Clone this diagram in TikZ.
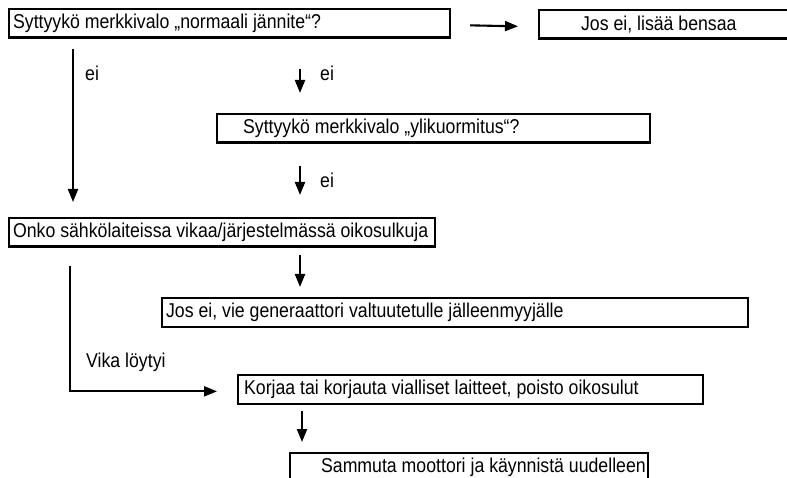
\documentclass[tikz,border=0pt]{standalone}
\usepackage{fontspec}
\setmainfont{Liberation Sans}[FakeStretch=0.885]
\usetikzlibrary{arrows.meta}
\newcommand{\boxtext}[2]{\makebox[#1][l]{#2}}
\begin{document}
\begin{tikzpicture}[x=1pt,y=-1pt,
  box/.style={draw, line width=2.2pt, inner xsep=4pt, inner ysep=0pt, anchor=north west,
    minimum height=28.5pt, font=\fontsize{20}{22}\selectfont},
  arr/.style={line width=2.1pt, -{Triangle[length=13pt,width=10pt]}},
  lbl/.style={anchor=west, inner sep=0pt, font=\fontsize{20}{22}\selectfont}]
\clip (0,0) rectangle (787,478);
\fill[white] (0,0) rectangle (787,478);
\node[box] (b1) at (8,8) {\boxtext{433pt}{Syttyykö merkkivalo „normaali jännite“?}};
\node[box] (b2) at (538,9) {\boxtext{262pt}{\hspace*{38pt}Jos ei, lisää bensaa}};
\node[box] (b3) at (216,113) {\boxtext{425pt}{\hspace*{22pt}Syttyykö merkkivalo „ylikuormitus“?}};
\node[box] (b4) at (8,217) {\boxtext{418pt}{Onko sähkölaiteissa vikaa/järjestelmässä oikosulkuja}};
\node[box] (b5) at (161,297) {\boxtext{578pt}{Jos ei, vie generaattori valtuutetulle jälleenmyyjälle}};
\node[box] (b6) at (237,374) {\boxtext{457pt}{\hspace*{2pt}Korjaa tai korjauta vialliset laitteet, poisto oikosulut}};
\node[box] (b7) at (289,452) {\boxtext{350pt}{\hspace*{27pt}Sammuta moottori ja käynnistä uudelleen}};
% connectors
\draw[arr] ([xshift=19pt,yshift=-2pt]b1.east) -- ([xshift=-20pt,yshift=-2pt]b2.west);
\draw[arr] ([xshift=65pt,yshift=-10pt]b1.south west) -- ([xshift=65pt,yshift=15pt]b4.north west);
\draw[arr] ([xshift=292pt,yshift=-30pt]b1.south west) -- ([xshift=84pt,yshift=20pt]b3.north west);
\draw[arr] ([xshift=84pt,yshift=-22pt]b3.south west) -- ([xshift=292pt,yshift=22pt]b4.north west);
\draw[arr] ([xshift=292pt,yshift=-7pt]b4.south west) -- ([xshift=139pt,yshift=10pt]b5.north west);
\draw[arr] ([xshift=62pt,yshift=-18pt]b4.south west) |- ([xshift=-20pt,yshift=-2pt]b6.west);
\draw[arr] ([xshift=65pt,yshift=-6pt]b6.south west) -- ([xshift=13pt,yshift=10pt]b7.north west);
% labels
\node[lbl] (l1) at (85,73) {ei};
\node[lbl] (l2) at (320,73) {ei};
\node[lbl] (l3) at (320,180) {ei};
\node[lbl] (l4) at (86,362) {Vika löytyi};
\end{tikzpicture}
\end{document}
